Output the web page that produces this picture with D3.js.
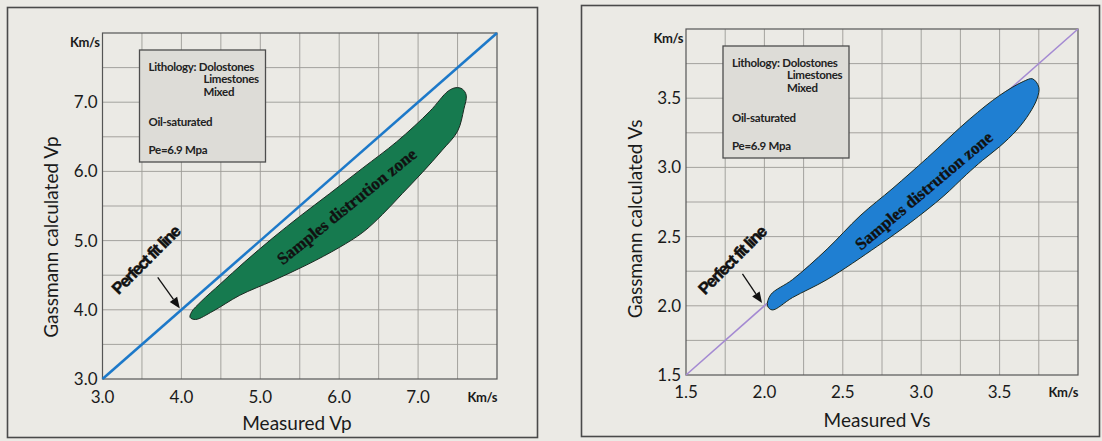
<!DOCTYPE html>
<html>
<head>
<meta charset="utf-8">
<script src="https://cdn.jsdelivr.net/npm/d3@7"></script>
<style>
  body { margin: 0; background: #ebeae5; }
  svg { display: block; }
  .tick-label { font-family: Lato, "DejaVu Sans", sans-serif; font-size: 17px; fill: #1a1a1a; }
  .axis-title { font-family: Lato, "DejaVu Sans", sans-serif; font-size: 19px; fill: #1a1a1a; }
  .unit { font-family: Lato, "Liberation Sans", sans-serif; font-size: 13px; font-weight: 700; fill: #1a1a1a; letter-spacing: -0.4px; }
  .legend { font-family: Lato, "Liberation Sans", sans-serif; font-size: 11.5px; font-weight: 700; fill: #222; letter-spacing: -0.3px; }
  .fit-label { font-family: "Liberation Sans", Arial, sans-serif; font-size: 16.5px; font-weight: 700; fill: #111; letter-spacing: -1.3px; stroke: #111; stroke-width: 0.5px; }
  .zone-label { font-family: "Liberation Serif", "DejaVu Serif", serif; font-size: 17px; font-weight: 700; fill: #111; stroke: #111; stroke-width: 0.35px; }
</style>
</head>
<body>
<svg id="chart" width="1102" height="441"></svg>
<script>
// ---- data ----
var vpDomain = [3.0, 8.0];
var vpTicks = [3.0, 4.0, 5.0, 6.0, 7.0];
var vpGrid = [3.5, 4.0, 4.5, 5.0, 5.5, 6.0, 6.5, 7.0, 7.5];
// sample zone outline, measured Vp vs Gassmann Vp (km/s)
var vpZoneX = [4.11, 4.18, 4.40, 4.74, 5.16, 5.59, 6.00, 6.30, 6.55, 6.80, 7.05, 7.30, 7.50, 7.58, 7.61, 7.56, 7.48, 7.38, 7.15, 6.73, 6.30, 5.88, 5.50, 5.16, 4.80, 4.50, 4.25, 4.13];
var vpZoneY = [3.89, 3.86, 3.98, 4.21, 4.42, 4.65, 4.90, 5.12, 5.38, 5.68, 5.98, 6.30, 6.58, 6.90, 7.10, 7.19, 7.21, 7.16, 6.87, 6.43, 6.05, 5.68, 5.35, 5.04, 4.69, 4.38, 4.12, 3.97];

var vsDomain = [1.5, 4.0];
var vsTicks = [1.5, 2.0, 2.5, 3.0, 3.5];
var vsGrid = [1.75, 2.0, 2.25, 2.5, 2.75, 3.0, 3.25, 3.5, 3.75];
var vsZoneX = [2.02, 2.05, 2.18, 2.40, 2.72, 2.93, 3.14, 3.29, 3.39, 3.50, 3.61, 3.69, 3.74, 3.75, 3.71, 3.65, 3.50, 3.31, 3.04, 2.82, 2.61, 2.40, 2.18, 2.04];
var vsZoneY = [2.00, 1.97, 2.06, 2.19, 2.43, 2.60, 2.79, 2.95, 3.05, 3.15, 3.27, 3.39, 3.50, 3.58, 3.64, 3.62, 3.52, 3.35, 3.07, 2.85, 2.65, 2.41, 2.19, 2.08];

var legendLines = ["Lithology: Dolostones", "Limestones", "Mixed", "Oil-saturated", "Pe=6.9 Mpa"];

var svg = d3.select("#chart");

function drawPanel(cfg) {
  var g = svg.append("g");

  // outer frame of the panel
  g.append("rect")
   .attr("x", cfg.frame[0]).attr("y", cfg.frame[1])
   .attr("width", cfg.frame[2]).attr("height", cfg.frame[3])
   .attr("fill", "#ebeae5").attr("stroke", "#4a4a4a").attr("stroke-width", 1.6);

  var x = d3.scaleLinear().domain(cfg.domain).range([cfg.left, cfg.right]);
  var y = d3.scaleLinear().domain(cfg.domain).range([cfg.bottom, cfg.top]);

  // grid
  g.append("g").selectAll("line.v").data(cfg.grid).enter().append("line")
   .attr("x1", function(d){ return x(d); }).attr("x2", function(d){ return x(d); })
   .attr("y1", cfg.top).attr("y2", cfg.bottom)
   .attr("stroke", "#9c9b96").attr("stroke-width", 0.9);
  g.append("g").selectAll("line.h").data(cfg.grid).enter().append("line")
   .attr("y1", function(d){ return y(d); }).attr("y2", function(d){ return y(d); })
   .attr("x1", cfg.left).attr("x2", cfg.right)
   .attr("stroke", "#9c9b96").attr("stroke-width", 0.9);

  g.append("rect")
   .attr("x", cfg.left).attr("y", cfg.top)
   .attr("width", cfg.right - cfg.left).attr("height", cfg.bottom - cfg.top)
   .attr("fill", "none").attr("stroke", "#555").attr("stroke-width", 1.2);

  // tick labels
  g.selectAll("text.xt").data(cfg.ticks).enter().append("text")
   .attr("class", "tick-label").attr("text-anchor", "middle")
   .attr("x", function(d){ return x(d); }).attr("y", cfg.bottom + cfg.xLabelDy)
   .text(function(d){ return d.toFixed(1); });
  g.selectAll("text.yt").data(cfg.ticks).enter().append("text")
   .attr("class", "tick-label").attr("text-anchor", "end")
   .attr("x", cfg.left - 5).attr("y", function(d){ return y(d) + 6; })
   .text(function(d){ return d.toFixed(1); });

  g.append("text").attr("class", "unit").attr("text-anchor", "end")
   .attr("x", cfg.right).attr("y", cfg.bottom + cfg.xLabelDy - 1).text("Km/s");
  g.append("text").attr("class", "unit").attr("text-anchor", "end")
   .attr("x", cfg.left - 3).attr("y", cfg.top + 14).text("Km/s");

  // axis titles
  g.append("text").attr("class", "axis-title").attr("text-anchor", "middle")
   .attr("x", cfg.xTitle[0]).attr("y", cfg.xTitle[1]).text(cfg.xName);
  g.append("text").attr("class", "axis-title").attr("text-anchor", "middle")
   .attr("transform", "translate(" + cfg.yTitle[0] + "," + cfg.yTitle[1] + ") rotate(-90)")
   .text(cfg.yName);

  // perfect fit line + sample distribution zone (order differs per panel)
  var pts = cfg.zoneX.map(function(v, i){ return [v, cfg.zoneY[i]]; });
  var area = d3.line()
    .x(function(d){ return x(d[0]); })
    .y(function(d){ return y(d[1]); })
    .curve(d3.curveCatmullRomClosed.alpha(0.5));

  function fitLine() {
    g.append("line")
     .attr("x1", x(cfg.domain[0])).attr("y1", y(cfg.domain[0]))
     .attr("x2", x(cfg.domain[1])).attr("y2", y(cfg.domain[1]))
     .attr("stroke", cfg.lineColor).attr("stroke-width", cfg.lineWidth);
  }
  if (!cfg.lineOnTop) fitLine();
  g.append("path").attr("d", area(pts))
   .attr("fill", cfg.zoneColor).attr("stroke", "#1b2a22").attr("stroke-width", 1);
  if (cfg.lineOnTop) fitLine();

  g.append("text").attr("class", "zone-label").attr("text-anchor", "middle")
   .attr("transform", "translate(" + x(cfg.zoneLabel[0]) + "," + y(cfg.zoneLabel[1]) + ") rotate(" + cfg.zoneLabel[2] + ")")
   .text("Samples distrution zone");

  // legend box
  var lx = cfg.left + 37, ly = cfg.top + 17;
  g.append("rect").attr("x", lx).attr("y", ly).attr("width", 126).attr("height", 112)
   .attr("fill", "#dddcd7").attr("stroke", "#4d4d4d").attr("stroke-width", 1.3);
  var offs = [[9, 21], [64, 33], [64, 46], [9, 76], [9, 104]];
  g.selectAll("text.lg").data(legendLines).enter().append("text")
   .attr("class", "legend")
   .attr("x", function(d, i){ return lx + offs[i][0]; })
   .attr("y", function(d, i){ return ly + offs[i][1]; })
   .text(function(d){ return d; });

  // perfect fit annotation + arrow
  g.append("text").attr("class", "fit-label").attr("text-anchor", "middle")
   .attr("transform", "translate(" + x(cfg.fitLabel[0]) + "," + y(cfg.fitLabel[1]) + ") rotate(-45)")
   .text("Perfect fit line");
  var a0 = [x(cfg.arrow[0]), y(cfg.arrow[1])], a1 = [x(cfg.arrow[2]), y(cfg.arrow[3])];
  var ang = Math.atan2(a1[1] - a0[1], a1[0] - a0[0]);
  var headLen = 11, headW = 4.5;
  var bx = a1[0] - headLen * Math.cos(ang), by = a1[1] - headLen * Math.sin(ang);
  g.append("line").attr("x1", a0[0]).attr("y1", a0[1]).attr("x2", bx).attr("y2", by)
   .attr("stroke", "#111").attr("stroke-width", 1.3);
  g.append("path")
   .attr("d", "M" + a1[0] + "," + a1[1] +
              "L" + (bx + headW * Math.sin(ang)) + "," + (by - headW * Math.cos(ang)) +
              "L" + (bx - headW * Math.sin(ang)) + "," + (by + headW * Math.cos(ang)) + "Z")
   .attr("fill", "#111");
}

drawPanel({
  frame: [7.5, 7.5, 530, 430],
  domain: vpDomain, ticks: vpTicks, grid: vpGrid,
  left: 102.5, right: 497, top: 33, bottom: 379,
  xLabelDy: 24,
  xName: "Measured Vp", yName: "Gassmann calculated Vp",
  xTitle: [297, 430], yTitle: [58, 237],
  lineColor: "#1d79c9", lineWidth: 2.6, lineOnTop: true,
  zoneX: vpZoneX, zoneY: vpZoneY, zoneColor: "#167a4f",
  zoneLabel: [6.14, 5.43, -39],
  fitLabel: [3.60, 4.66],
  arrow: [3.70, 4.47, 3.98, 4.02]
});

drawPanel({
  frame: [581.5, 5.5, 518, 431],
  domain: vsDomain, ticks: vsTicks, grid: vsGrid,
  left: 686, right: 1078, top: 29, bottom: 375,
  xLabelDy: 23,
  xName: "Measured Vs", yName: "Gassmann calculated Vs",
  xTitle: [877, 427], yTitle: [642, 219],
  lineColor: "#a48ad2", lineWidth: 1.6, lineOnTop: false,
  zoneX: vsZoneX, zoneY: vsZoneY, zoneColor: "#1f7fd2",
  zoneLabel: [3.04, 2.80, -40],
  fitLabel: [1.82, 2.30],
  arrow: [1.86, 2.23, 1.985, 2.02]
});
</script>
</body>
</html>
